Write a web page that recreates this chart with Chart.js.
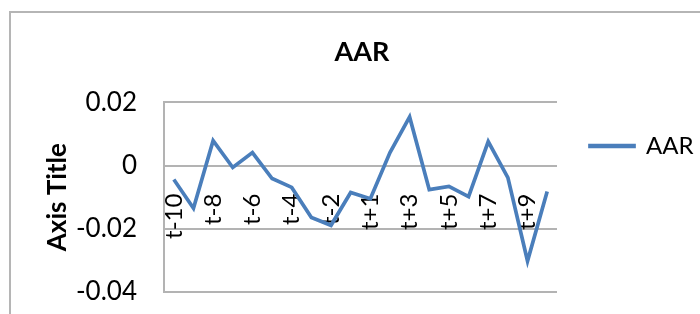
<!DOCTYPE html>
<html lang="en">
<head>
  <meta charset="UTF-8" />
  <title>AAR</title>
  <script src="https://cdn.jsdelivr.net/npm/chart.js"></script>
  <style>
    body { margin: 0; background: #fff; }
    #wrap { position: relative; width: 700px; height: 314px; overflow: hidden; }
    #frame {
      position: absolute; left: 9px; top: 11px; width: 720px; height: 330px;
      border-top: 2px solid #b5b5b5; border-left: 2px solid #b5b5b5;
    }
    canvas { position: absolute; left: 0; top: 0; }
  </style>
</head>
<body>
  <div id="wrap">
    <div id="frame"></div>
    <canvas id="aarChart" width="700" height="314"></canvas>
  </div>

  <script>
    // event window (no t0 in the data)
    const days = ['t-10', 't-9', 't-8', 't-7', 't-6', 't-5', 't-4', 't-3', 't-2', 't-1',
                  't+1', 't+2', 't+3', 't+4', 't+5', 't+6', 't+7', 't+8', 't+9', 't+10'];
    const aar = [-0.0044, -0.0135, 0.0079, -0.0006, 0.0041, -0.0041, -0.0069, -0.0164, -0.0189, -0.0085,
                 -0.0105, 0.0041, 0.0154, -0.0076, -0.0066, -0.0098, 0.0076, -0.0038, -0.0302, -0.0082];
    const yTicks = [0.02, 0, -0.02, -0.04];

    const gridGrey = '#b3b3b3';
    const blue = '#4a7ebb';
    Chart.defaults.font.family = 'Lato';
    Chart.defaults.color = '#000';

    const ctx = document.getElementById('aarChart').getContext('2d');
    new Chart(ctx, {
      type: 'line',
      data: {
        labels: days,
        datasets: [{
          label: 'AAR',
          data: aar,
          borderColor: blue,
          backgroundColor: blue,
          borderWidth: 3.7,
          pointRadius: 0,
          tension: 0
        }]
      },
      options: {
        responsive: false,
        animation: false,
        layout: { padding: { left: 24, right: 0, top: 0, bottom: 22 } },
        scales: {
          x: {
            type: 'category',
            offset: true,
            position: { y: 0 },
            grid: { display: false },
            border: { display: false },
            ticks: {
              autoSkip: false,
              minRotation: 90,
              maxRotation: 90,
              padding: 20,
              font: { size: 24 },
              callback: (v, i) => (i % 2 === 0 ? days[i] : '')
            },
            afterFit: s => { s.height = 0; }
          },
          y: {
            min: -0.04,
            max: 0.02,
            // invisible tick marks give the gap between labels and the axis line
            grid: { color: gridGrey, lineWidth: 2, tickLength: 24, tickColor: 'rgba(0,0,0,0)' },
            border: { display: true, color: gridGrey, width: 2 },
            ticks: {
              padding: 3,
              font: { size: 26 },
              callback: v => (Math.abs(v) < 1e-9 ? '0' : v.toFixed(2))
            },
            afterBuildTicks: s => { s.ticks = yTicks.map(v => ({ value: v })); },
            title: {
              display: true,
              text: 'Axis Title',
              font: { size: 26, weight: 'bold' },
              padding: { top: 18, bottom: 4 }
            },
            afterFit: s => { s.width = 140; }
          }
        },
        plugins: {
          title: {
            display: true,
            text: 'AAR',
            font: { size: 27, weight: 'bold' },
            padding: { top: 36, bottom: 34 }
          },
          legend: {
            position: 'right',
            maxWidth: 143,
            labels: {
              boxWidth: 44,
              boxHeight: 1,
              padding: 33,
              font: { size: 24 }
            }
          },
          tooltip: { enabled: false }
        }
      }
    });
  </script>
</body>
</html>
